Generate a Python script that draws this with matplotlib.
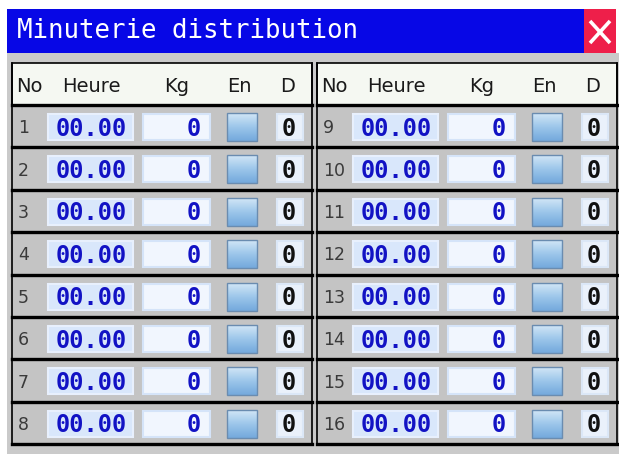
import numpy as np
import matplotlib.pyplot as plt
from matplotlib.patches import Rectangle
from matplotlib.colors import LinearSegmentedColormap

title = "Minuterie distribution"
headers = ["No", "Heure", "Kg", "En", "D"]
row_no = [1, 2, 3, 4, 5, 6, 7, 8, 9, 10, 11, 12, 13, 14, 15, 16]
heure = ["00.00", "00.00", "00.00", "00.00", "00.00", "00.00", "00.00", "00.00",
         "00.00", "00.00", "00.00", "00.00", "00.00", "00.00", "00.00", "00.00"]
kg = [0, 0, 0, 0, 0, 0, 0, 0, 0, 0, 0, 0, 0, 0, 0, 0]
d_val = [0, 0, 0, 0, 0, 0, 0, 0, 0, 0, 0, 0, 0, 0, 0, 0]

W, H = 619, 454
fig = plt.figure(figsize=(W / 100, H / 100), dpi=100)
fig.patch.set_facecolor("white")
ax = fig.add_axes([0, 0, 1, 1])
ax.axis("off")

# window background and title bar
ax.add_patch(Rectangle((7, 53), W - 7, H - 53, facecolor="#cacaca", lw=0))
ax.add_patch(Rectangle((7, 9), 577, 44, facecolor="#0707e6", lw=0))
ax.add_patch(Rectangle((584, 9), 32, 44, facecolor="#ee1f4a", lw=0))
ax.plot([590, 610], [21, 43], color="white", lw=2.6, solid_capstyle="butt")
ax.plot([590, 610], [43, 21], color="white", lw=2.6, solid_capstyle="butt")
ax.text(17, 31, title, color="white", fontsize=18.5, family="DejaVu Sans Mono",
        va="center")

btn_cmap = LinearSegmentedColormap.from_list("btn", ["#d2e6f6", "#9cc6ea", "#74a9dc"])
grad = np.linspace(0, 1, 40).reshape(-1, 1)

top0, row_h = 105, 42.4
panel_w = 300
panels = [12, 317]
# header label anchors (offset, alignment) within a panel
head_pos = [(4, "left"), (79, "center"), (165, "center"), (227, "center"), (276, "center")]

for p, x0 in enumerate(panels):
    # header
    ax.add_patch(Rectangle((x0, 63), panel_w, top0 - 63, facecolor="#f5f8f2",
                           edgecolor="black", lw=1.2))
    for lab, (dx, al) in zip(headers, head_pos):
        ax.text(x0 + dx, 85, lab, fontsize=14, family="DejaVu Sans", color="#1a1a1a",
                va="center_baseline", ha=al)

    for r in range(8):
        i = p * 8 + r
        y = top0 + r * row_h
        yc = y + row_h / 2
        ax.add_patch(Rectangle((x0, y), panel_w, row_h, facecolor="#c4c4c4", lw=0))
        ax.text(x0 + 6, yc, str(row_no[i]), fontsize=12.5, family="DejaVu Sans",
                color="#3a3a3a", va="center_baseline", ha="left")
        # time field
        ax.add_patch(Rectangle((x0 + 36, y + 9), 85, 26, facecolor="#d9e7fb",
                               edgecolor="#e8f0fd", lw=1.5))
        ax.text(x0 + 79, yc, heure[i], fontsize=17, family="DejaVu Sans Mono",
                fontweight="bold", color="#1212c4", va="center_baseline", ha="center")
        # kg field
        ax.add_patch(Rectangle((x0 + 131, y + 9), 67, 26, facecolor="#f1f6fe",
                               edgecolor="#d5e4f9", lw=1.5))
        ax.text(x0 + 189, yc, str(kg[i]), fontsize=17, family="DejaVu Sans Mono",
                fontweight="bold", color="#1212c4", va="center_baseline", ha="right")
        # En button
        ax.imshow(grad, cmap=btn_cmap, aspect="auto", origin="upper",
                  extent=(x0 + 215, x0 + 245, y + 36, y + 8), zorder=3)
        ax.add_patch(Rectangle((x0 + 215, y + 8), 30, 28, facecolor="none",
                               edgecolor="#6a8cb0", lw=1, zorder=4))
        # D field
        ax.add_patch(Rectangle((x0 + 265, y + 9), 26, 26, facecolor="#eaf1fb",
                               edgecolor="#dbe7f7", lw=1.5))
        ax.text(x0 + 277, yc, str(d_val[i]), fontsize=17, family="DejaVu Sans Mono",
                fontweight="bold", color="#111111", va="center_baseline", ha="center")

    # row separators and panel borders
    for r in range(9):
        y = top0 + r * row_h
        ax.plot([x0, x0 + panel_w], [y, y], color="black", lw=2.4, zorder=5)
    ax.plot([x0, x0], [63, top0 + 8 * row_h], color="black", lw=1.2, zorder=5)
    ax.plot([x0 + panel_w, x0 + panel_w], [63, top0 + 8 * row_h], color="black",
            lw=1.2, zorder=5)

ax.set_xlim(0, W)
ax.set_ylim(H, 0)
fig.savefig("out.png", dpi=100)
